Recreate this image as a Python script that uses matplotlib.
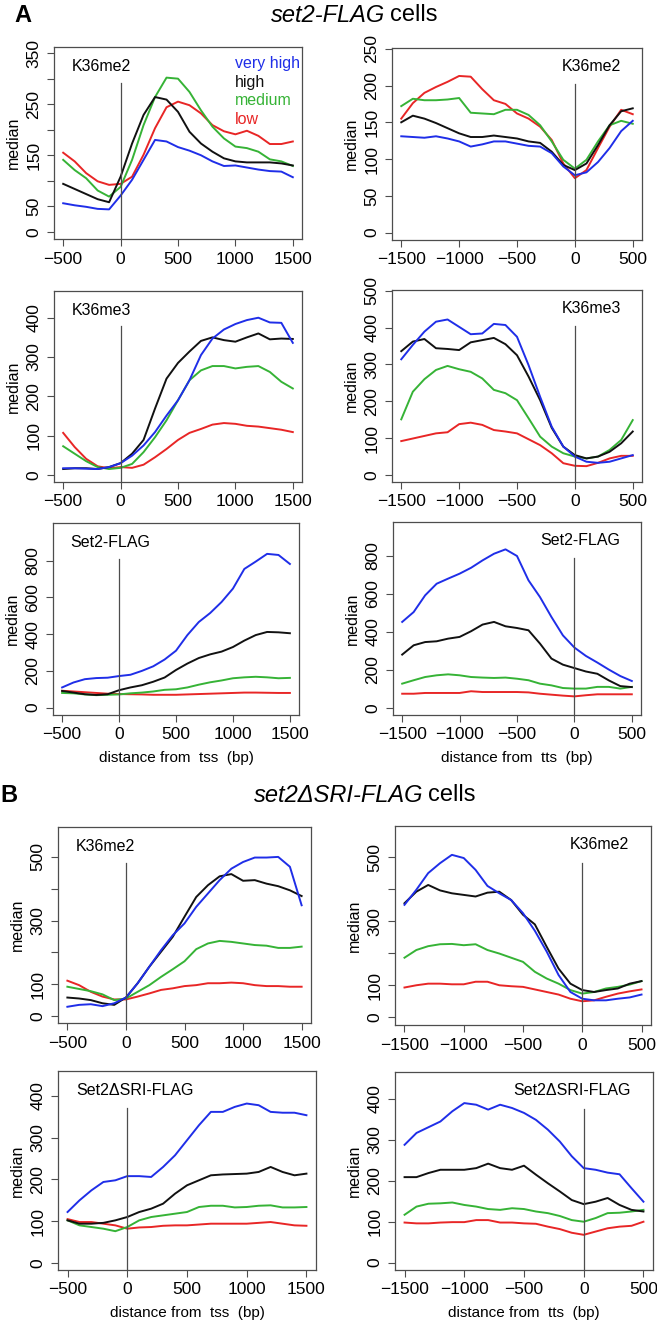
import matplotlib
matplotlib.use('Agg')
import matplotlib.pyplot as plt

plt.rcParams['font.family'] = ['Liberation Sans', 'DejaVu Sans']

W, H = 657, 1322  # figure size in pixels

# --- DATA (median signal) ---
X_TSS = list(range(-500, 1501, 100))
X_TTS = list(range(-1500, 501, 100))
GROUPS = ["very high", "high", "medium", "low"]

# A: set2-FLAG cells
a_tss_me2_vhigh = [56, 52, 49, 45, 44, 71, 102, 141, 180, 177, 166, 159, 150, 138, 129, 130, 126, 122, 119, 118, 107]
a_tss_me2_high = [94, 84, 74, 64, 58, 108, 173, 229, 264, 259, 235, 196, 173, 157, 144, 138, 136, 136, 136, 134, 130]
a_tss_me2_med = [141, 121, 105, 81, 69, 88, 141, 209, 264, 302, 300, 274, 238, 206, 183, 167, 164, 157, 142, 138, 129]
a_tss_me2_low = [155, 138, 115, 99, 92, 94, 108, 151, 203, 244, 255, 248, 232, 209, 197, 191, 198, 188, 172, 172, 177]

a_tts_me2_vhigh = [131, 130, 129, 131, 128, 124, 117, 120, 124, 124, 121, 118, 117, 108, 90, 78, 82, 96, 115, 138, 152]
a_tts_me2_high = [150, 159, 155, 149, 142, 135, 130, 130, 132, 130, 128, 124, 122, 110, 92, 85, 94, 119, 146, 165, 169]
a_tts_me2_med = [172, 182, 180, 180, 181, 183, 163, 162, 161, 167, 167, 160, 146, 124, 99, 87, 99, 124, 146, 152, 148]
a_tts_me2_low = [155, 176, 190, 198, 205, 213, 212, 195, 180, 175, 162, 155, 144, 126, 94, 74, 85, 115, 144, 167, 161]

a_tss_me3_vhigh = [17, 17, 16, 15, 20, 30, 49, 75, 109, 151, 190, 241, 305, 347, 370, 384, 394, 400, 388, 387, 336]
a_tss_me3_high = [15, 17, 17, 15, 20, 30, 54, 89, 169, 245, 285, 314, 341, 350, 343, 339, 350, 360, 345, 347, 346]
a_tss_me3_med = [73, 54, 35, 20, 15, 18, 28, 58, 96, 139, 190, 241, 266, 277, 277, 271, 275, 277, 262, 237, 220]
a_tss_me3_low = [107, 71, 41, 22, 17, 20, 18, 26, 45, 66, 89, 107, 117, 128, 132, 130, 125, 123, 119, 115, 109]

a_tts_me3_vhigh = [314, 353, 389, 416, 422, 402, 382, 384, 410, 407, 375, 298, 212, 131, 77, 50, 36, 33, 36, 45, 54]
a_tts_me3_high = [336, 362, 369, 344, 342, 339, 360, 366, 372, 355, 325, 267, 203, 128, 77, 54, 45, 50, 63, 86, 118]
a_tts_me3_med = [151, 226, 260, 285, 296, 287, 280, 262, 231, 222, 203, 154, 104, 77, 59, 50, 45, 50, 68, 95, 149]
a_tts_me3_low = [92, 99, 106, 113, 116, 138, 142, 136, 122, 118, 113, 97, 81, 59, 32, 25, 24, 33, 45, 52, 52]

a_tss_set2_vhigh = [110, 137, 155, 161, 163, 172, 179, 200, 225, 262, 310, 395, 466, 515, 575, 648, 755, 795, 837, 831, 782]
a_tss_set2_high = [91, 82, 73, 69, 73, 95, 110, 122, 141, 164, 205, 240, 270, 290, 305, 330, 365, 395, 412, 410, 405]
a_tss_set2_med = [80, 78, 72, 68, 70, 72, 78, 82, 88, 97, 100, 110, 125, 138, 148, 160, 165, 168, 165, 160, 162]
a_tss_set2_low = [92, 88, 84, 80, 76, 74, 73, 72, 70, 70, 70, 72, 74, 76, 78, 80, 82, 82, 81, 80, 80]

a_tts_set2_vhigh = [453, 505, 593, 654, 681, 707, 738, 777, 812, 835, 800, 672, 584, 479, 382, 318, 274, 239, 202, 168, 142]
a_tts_set2_high = [281, 330, 347, 351, 365, 374, 404, 439, 453, 430, 421, 409, 339, 260, 228, 210, 192, 180, 145, 115, 110]
a_tts_set2_med = [128, 146, 163, 172, 177, 172, 163, 160, 158, 160, 154, 146, 128, 119, 105, 102, 102, 111, 111, 102, 111]
a_tts_set2_low = [75, 75, 79, 79, 79, 79, 88, 84, 84, 84, 84, 82, 75, 70, 65, 61, 67, 72, 72, 72, 72]

# B: set2dSRI-FLAG cells
b_tss_me2_vhigh = [29, 35, 37, 31, 40, 58, 103, 155, 207, 254, 291, 343, 385, 427, 463, 484, 498, 498, 500, 469, 348]
b_tss_me2_high = [58, 55, 50, 40, 35, 58, 103, 155, 202, 249, 312, 374, 411, 439, 446, 425, 427, 416, 408, 395, 377]
b_tss_me2_med = [92, 85, 78, 68, 50, 55, 76, 97, 123, 147, 172, 210, 228, 236, 233, 228, 223, 221, 214, 214, 218]
b_tss_me2_low = [111, 97, 76, 61, 52, 52, 61, 71, 82, 87, 94, 97, 103, 103, 105, 103, 97, 94, 94, 92, 92]

b_tts_me2_vhigh = [351, 398, 450, 481, 507, 497, 460, 410, 387, 366, 325, 270, 205, 132, 79, 58, 53, 53, 58, 62, 71]
b_tts_me2_high = [356, 392, 413, 396, 387, 382, 377, 389, 392, 366, 320, 290, 220, 152, 105, 85, 79, 85, 90, 105, 113]
b_tts_me2_med = [186, 210, 222, 228, 229, 225, 228, 210, 199, 186, 173, 142, 121, 105, 85, 74, 79, 90, 95, 102, 113]
b_tts_me2_low = [93, 100, 105, 105, 103, 103, 111, 111, 100, 97, 95, 87, 79, 71, 58, 50, 53, 64, 74, 81, 87]

b_tss_sri_vhigh = [122, 150, 174, 194, 198, 208, 208, 206, 230, 258, 294, 330, 362, 362, 374, 382, 378, 362, 360, 360, 354]
b_tss_sri_high = [102, 94, 94, 96, 102, 110, 122, 130, 142, 166, 186, 198, 210, 212, 213, 214, 218, 230, 218, 210, 214]
b_tss_sri_med = [102, 90, 86, 82, 76, 86, 102, 110, 114, 118, 122, 134, 137, 137, 133, 134, 137, 138, 133, 133, 134]
b_tss_sri_low = [105, 98, 98, 94, 90, 82, 85, 86, 89, 90, 90, 92, 94, 94, 94, 94, 96, 98, 94, 90, 89]

b_tts_sri_vhigh = [288, 317, 331, 345, 370, 390, 386, 374, 386, 378, 366, 349, 325, 296, 260, 231, 227, 220, 216, 182, 149]
b_tts_sri_high = [209, 209, 219, 227, 227, 227, 231, 242, 231, 227, 237, 215, 194, 174, 153, 143, 149, 158, 141, 129, 125]
b_tts_sri_med = [117, 137, 144, 145, 147, 141, 137, 131, 129, 133, 131, 125, 121, 114, 104, 100, 109, 121, 122, 125, 129]
b_tts_sri_low = [98, 96, 96, 98, 99, 99, 104, 104, 98, 98, 96, 95, 88, 82, 73, 68, 76, 84, 88, 90, 100]

COLORS = ['#1f2ee8', '#111111', '#36b336', '#e82626']  # very high, high, medium, low


def px_axes(fig, left, top, right, bottom):
    return fig.add_axes([left / W, 1 - bottom / H, (right - left) / W, (bottom - top) / H])


def draw_panel(ax, x, series, ylim, yticks, ylabels, label, tts=False, xlabel=None):
    # draw low first so very high ends up on top
    for vals, col in reversed(list(zip(series, COLORS))):
        ax.plot(x, vals, color=col, lw=1.4)
    ax.axvline(0, ymax=0.815, color='0.3', lw=0.9)

    if tts:
        ax.set_xlim(-1580, 580)
        ax.set_xticks([-1500, -1000, -500, 0, 500])
        ax.text(0.915, 0.905, label, transform=ax.transAxes, ha='right', va='center', fontsize=11.5)
    else:
        ax.set_xlim(-580, 1580)
        ax.set_xticks([-500, 0, 500, 1000, 1500])
        ax.text(0.07, 0.9, label, transform=ax.transAxes, ha='left', va='center', fontsize=11.5)

    ax.set_ylim(*ylim)
    ax.set_yticks(yticks)
    ax.set_yticklabels(ylabels)
    ax.set_ylabel("median", fontsize=11.5, labelpad=4)
    ax.tick_params(direction='out', length=5, width=0.8, color='0.3', labelsize=12.5, pad=4)
    ax.tick_params(axis='y', labelrotation=90)
    for lab in ax.get_yticklabels():
        lab.set_va('center')
    for sp in ax.spines.values():
        sp.set_color('0.3')
        sp.set_linewidth(0.9)
    if xlabel:
        ax.set_xlabel(xlabel, fontsize=11, labelpad=6)


fig = plt.figure(figsize=(W / 100, H / 100), dpi=100)

# --- panel A headers ---
fig.text(14 / W, 1 - 16 / H, "A", fontsize=17, fontweight='bold', ha='left', va='center')
fig.text(385 / W, 1 - 15 / H, "set2-FLAG", fontsize=17, style='italic', ha='right', va='center')
fig.text(390 / W, 1 - 15 / H, "cells", fontsize=17, ha='left', va='center')

ax = px_axes(fig, 54, 47, 302, 239)
draw_panel(ax, X_TSS, [a_tss_me2_vhigh, a_tss_me2_high, a_tss_me2_med, a_tss_me2_low],
           (-14, 362), list(range(0, 351, 50)), ["0", "50", "", "150", "", "250", "", "350"], "K36me2")
for i, (grp, col) in enumerate(zip(GROUPS, COLORS)):
    ax.text(0.73, 0.915 - i * 0.098, grp, transform=ax.transAxes, color=col,
            fontsize=11.5, ha='left', va='center')

ax = px_axes(fig, 392, 48, 642, 240)
draw_panel(ax, X_TTS, [a_tts_me2_vhigh, a_tts_me2_high, a_tts_me2_med, a_tts_me2_low],
           (-10, 251), list(range(0, 251, 50)), [str(v) for v in range(0, 251, 50)], "K36me2", tts=True)

ax = px_axes(fig, 54, 291, 302, 482)
draw_panel(ax, X_TSS, [a_tss_me3_vhigh, a_tss_me3_high, a_tss_me3_med, a_tss_me3_low],
           (-18, 468), list(range(0, 401, 100)), [str(v) for v in range(0, 401, 100)], "K36me3")

ax = px_axes(fig, 392, 290, 642, 482)
draw_panel(ax, X_TTS, [a_tts_me3_vhigh, a_tts_me3_high, a_tts_me3_med, a_tts_me3_low],
           (-19, 502), list(range(0, 501, 100)), [str(v) for v in range(0, 501, 100)], "K36me3", tts=True)

ax = px_axes(fig, 53, 523, 299, 715)
draw_panel(ax, X_TSS, [a_tss_set2_vhigh, a_tss_set2_high, a_tss_set2_med, a_tss_set2_low],
           (-40, 1005), list(range(0, 801, 200)), [str(v) for v in range(0, 801, 200)], "Set2-FLAG",
           xlabel="distance from  tss  (bp)")

ax = px_axes(fig, 393, 522, 641, 715)
draw_panel(ax, X_TTS, [a_tts_set2_vhigh, a_tts_set2_high, a_tts_set2_med, a_tts_set2_low],
           (-37, 979), list(range(0, 801, 200)), [str(v) for v in range(0, 801, 200)], "Set2-FLAG",
           tts=True, xlabel="distance from  tts  (bp)")

# --- panel B headers ---
fig.text(0 / W, 1 - 795 / H, "B", fontsize=17, fontweight='bold', ha='left', va='center')
fig.text(423 / W, 1 - 795 / H, "set2\u0394SRI-FLAG", fontsize=17, style='italic', ha='right', va='center')
fig.text(428 / W, 1 - 795 / H, "cells", fontsize=17, ha='left', va='center')

ax = px_axes(fig, 58, 827, 311, 1023)
draw_panel(ax, X_TSS, [b_tss_me2_vhigh, b_tss_me2_high, b_tss_me2_med, b_tss_me2_low],
           (-22, 594), list(range(0, 501, 100)), ["0", "100", "", "300", "", "500"], "K36me2")

ax = px_axes(fig, 395, 826, 651, 1025)
draw_panel(ax, X_TTS, [b_tts_me2_vhigh, b_tts_me2_high, b_tts_me2_med, b_tts_me2_low],
           (-24, 597), list(range(0, 501, 100)), ["0", "100", "", "300", "", "500"], "K36me2", tts=True)

ax = px_axes(fig, 58, 1071, 316, 1270)
draw_panel(ax, X_TSS, [b_tss_sri_vhigh, b_tss_sri_high, b_tss_sri_med, b_tss_sri_low],
           (-17, 460), list(range(0, 401, 100)), [str(v) for v in range(0, 401, 100)], "Set2\u0394SRI-FLAG",
           xlabel="distance from  tss  (bp)")

ax = px_axes(fig, 395, 1072, 653, 1270)
draw_panel(ax, X_TTS, [b_tts_sri_vhigh, b_tts_sri_high, b_tts_sri_med, b_tts_sri_low],
           (-18, 466), list(range(0, 401, 100)), [str(v) for v in range(0, 401, 100)], "Set2\u0394SRI-FLAG",
           tts=True, xlabel="distance from  tts  (bp)")

fig.savefig("out.png", dpi=100)
